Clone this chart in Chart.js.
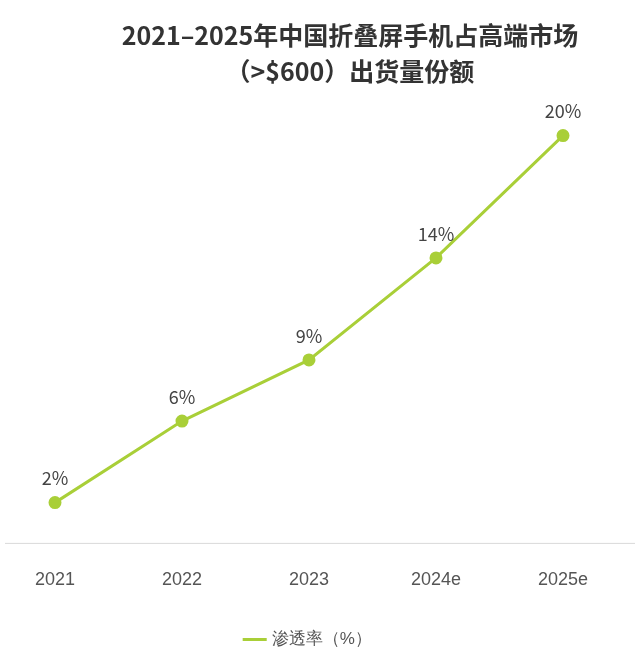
<!DOCTYPE html>
<html>
<head>
<meta charset="UTF-8">
<script src="https://cdn.jsdelivr.net/npm/chart.js"></script>
<style>
	body { margin: 0; background: #fff; font-family: "Noto Sans CJK SC", sans-serif; }
	#title {
		position: absolute; left: 60px; top: 16px; width: 580px;
		text-align: center; font-size: 25px; font-weight: bold; color: #333; line-height: 36px;
	}
	#wrap { position: absolute; left: 0; top: 0; width: 640px; height: 658px; }
</style>
</head>
<body>
<div id="wrap"><canvas id="myChart"></canvas></div>
<div id="title">2021–2025年中国折叠屏手机占高端市场<br>（&gt;$600）出货量份额</div>
<script>
	const years = ['2021', '2022', '2023', '2024e', '2025e'];
	const share = [2, 6, 9, 14, 20];
	const lineColor = '#a9cf38';

	// percent labels above each point
	const labelPlugin = {
		id: 'pointLabels',
		afterDatasetsDraw: (chart) => {
			const {ctx} = chart;
			const meta = chart.getDatasetMeta(0);
			ctx.save();
			ctx.font = '18px "Noto Sans CJK SC", sans-serif';
			ctx.fillStyle = '#444';
			ctx.textAlign = 'center';
			meta.data.forEach((pt, i) => {
				ctx.fillText(share[i] + '%', pt.x, pt.y - 24);
			});
			ctx.restore();
		}
	};

	// long baseline across the whole width
	const baseLine = {
		id: 'baseLine',
		beforeDatasetsDraw: (chart) => {
			const {ctx} = chart;
			const y = chart.scales.y.getPixelForValue(0);
			ctx.save();
			ctx.strokeStyle = '#d9d9d9';
			ctx.lineWidth = 1;
			ctx.beginPath();
			ctx.moveTo(5, y);
			ctx.lineTo(635, y);
			ctx.stroke();
			ctx.restore();
		}
	};

	new Chart(document.getElementById('myChart'), {
		type: 'line',
		data: {
			labels: years,
			datasets: [{
				label: '渗透率（%）',
				data: share,
				borderColor: lineColor,
				backgroundColor: lineColor,
				borderWidth: 3,
				pointRadius: 5,
				pointStyle: 'circle'
			}]
		},
		options: {
			responsive: true,
			maintainAspectRatio: false,
			animation: false,
			layout: { padding: { left: 55, right: 77, top: 105, bottom: 0 } },
			scales: {
				x: {
					offset: false,
					grid: { display: false },
					border: { display: false },
					ticks: { color: '#555', font: { size: 18 }, padding: 18 }
				},
				y: {
					display: false,
					min: 0,
					max: 21.5
				}
			},
			plugins: {
				legend: {
					position: 'bottom',
					labels: {
						usePointStyle: true,
						pointStyle: 'line',
						color: '#555',
						font: { size: 17 },
						padding: 22
					}
				},
				tooltip: { enabled: false }
			}
		},
		plugins: [labelPlugin, baseLine]
	});
</script>
</body>
</html>
